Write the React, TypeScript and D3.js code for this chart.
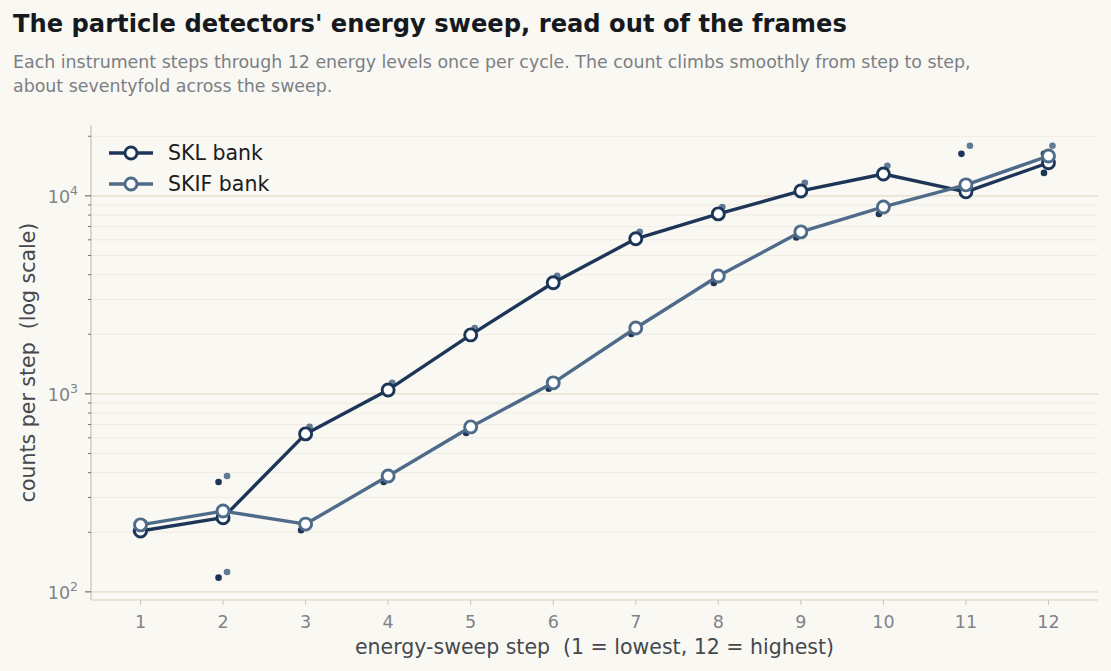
import React from 'react';
import * as d3 from 'd3';

// energy steps and the per-step mean counts of each bank
const steps = [1, 2, 3, 4, 5, 6, 7, 8, 9, 10, 11, 12];
const sklMean = [203, 237, 628, 1047, 1985, 3640, 6070, 8110, 10590, 12900, 10480, 14700];
const skifMean = [218, 256, 220, 385, 681, 1137, 2152, 3940, 6580, 8790, 11370, 15900];

// single-frame readings drawn as small dots [step, counts]
const sklFrames: [number, number][] = [
  [1, 203], [2, 359], [2, 118], [3, 205], [4, 359], [5, 635], [6, 1062],
  [7, 2007], [8, 3634], [9, 6160], [10, 8100], [11, 16300], [12, 16300], [12, 13060],
];
const skifFrames: [number, number][] = [
  [1, 222], [2, 385], [2, 126], [3, 681], [4, 1137], [5, 2152], [6, 3944],
  [7, 6580], [8, 8790], [9, 11640], [10, 14190], [11, 17900], [12, 17900],
];

const seriesNames = ['SKL bank', 'SKIF bank'];
const colors = ['#1d3658', '#4f6b8a'];
const yTicks = [100, 1000, 10000];

const W = 1111;
const H = 671;
const m = { left: 91, right: 1098, top: 125, bottom: 600 };
const FONT = "'DejaVu Sans', sans-serif";

export default function App() {
  const x = d3.scaleLinear().domain([0.4, 12.6]).range([m.left, m.right]);
  const y = d3.scaleLog().domain([91, 22800]).range([m.bottom, m.top]);

  const minor: number[] = [];
  for (const dec of [10, 100, 1000, 10000]) {
    for (let k = 2; k <= 9; k++) {
      const v = dec * k;
      if (v >= 91 && v <= 22800) minor.push(v);
    }
  }

  const line = d3.line<number>().x((d, i) => x(steps[i])).y(d => y(d));
  const means = [sklMean, skifMean];
  const frames = [sklFrames, skifFrames];
  const jitter = [-4.5, 4];

  return (
    <svg width={W} height={H} style={{ display: 'block', position: 'absolute', left: 0, top: 0 }}>
      <rect width={W} height={H} fill="#f9f8f3" />
      <text x={13} y={32} fontFamily={FONT} fontWeight="bold" fontSize={24.2} fill="#16191d">
        The particle detectors' energy sweep, read out of the frames
      </text>
      <text x={13} y={68} fontFamily={FONT} fontSize={17.4} fill="#7b7f86">
        Each instrument steps through 12 energy levels once per cycle. The count climbs smoothly from step to step,
      </text>
      <text x={13} y={92} fontFamily={FONT} fontSize={17.4} fill="#7b7f86">
        about seventyfold across the sweep.
      </text>

      {/* grid */}
      {minor.map(v => (
        <line key={'mg' + v} x1={m.left} x2={m.right} y1={y(v)} y2={y(v)} stroke="#eeebe2" strokeWidth={1} />
      ))}
      {yTicks.map(v => (
        <line key={'g' + v} x1={m.left} x2={m.right} y1={y(v)} y2={y(v)} stroke="#e2dcc8" strokeWidth={1.2} />
      ))}

      {/* axes */}
      <line x1={m.left} x2={m.left} y1={m.top} y2={m.bottom} stroke="#c9c3b5" strokeWidth={1.2} />
      <line x1={m.left} x2={m.right} y1={m.bottom} y2={m.bottom} stroke="#d8cfb8" strokeWidth={1.2} />
      {minor.map(v => (
        <line key={'mt' + v} x1={m.left - 3} x2={m.left} y1={y(v)} y2={y(v)} stroke="#555" strokeWidth={0.8} />
      ))}
      {yTicks.map(v => (
        <g key={'yt' + v}>
          <line x1={m.left - 6} x2={m.left} y1={y(v)} y2={y(v)} stroke="#555" strokeWidth={1} />
          <text x={m.left - 13} y={y(v) + 7} textAnchor="end" fontFamily={FONT} fontSize={17.5} fill="#80838a">
            10<tspan dy={-8} fontSize={12.5}>{Math.round(Math.log10(v))}</tspan>
          </text>
        </g>
      ))}
      {steps.map(s => (
        <g key={'xt' + s}>
          <line x1={x(s)} x2={x(s)} y1={m.bottom} y2={m.bottom + 5} stroke="#c9c3b5" strokeWidth={1} />
          <text x={x(s)} y={628} textAnchor="middle" fontFamily={FONT} fontSize={17.5} fill="#80838a">{s}</text>
        </g>
      ))}
      <text x={(m.left + m.right) / 2} y={654} textAnchor="middle" fontFamily={FONT} fontSize={20.5}
        fill="#45484d" style={{ whiteSpace: 'pre' }}>
        {'energy-sweep step  (1 = lowest, 12 = highest)'}
      </text>
      <text transform={`translate(35, ${(m.top + m.bottom) / 2}) rotate(-90)`} textAnchor="middle"
        fontFamily={FONT} fontSize={20.5} fill="#45484d" style={{ whiteSpace: 'pre' }}>
        {'counts per step  (log scale)'}
      </text>

      {/* frame dots */}
      {frames.map((fr, si) => fr.map(([s, v], i) => (
        <circle key={'d' + si + '-' + i} cx={x(s) + jitter[si]} cy={y(v)} r={3.3} fill={colors[si]} opacity={si === 0 ? 1 : 0.9} />
      )))}

      {/* mean lines */}
      {means.map((vals, si) => (
        <g key={'s' + si}>
          <path d={line(vals) || ''} fill="none" stroke={colors[si]} strokeWidth={3.4} strokeLinejoin="round" />
          {vals.map((v, i) => (
            <circle key={i} cx={x(steps[i])} cy={y(v)} r={6} fill="#ffffff" stroke={colors[si]} strokeWidth={2.9} />
          ))}
        </g>
      ))}

      {/* legend */}
      {seriesNames.map((name, si) => (
        <g key={'l' + si} transform={`translate(0, ${153 + si * 31})`}>
          <line x1={109} x2={153} y1={0} y2={0} stroke={colors[si]} strokeWidth={3.4} />
          <circle cx={131} cy={0} r={6} fill="#ffffff" stroke={colors[si]} strokeWidth={2.9} />
          <text x={168} y={7} fontFamily={FONT} fontSize={20.5} fill="#1a1c20">{name}</text>
        </g>
      ))}
    </svg>
  );
}
